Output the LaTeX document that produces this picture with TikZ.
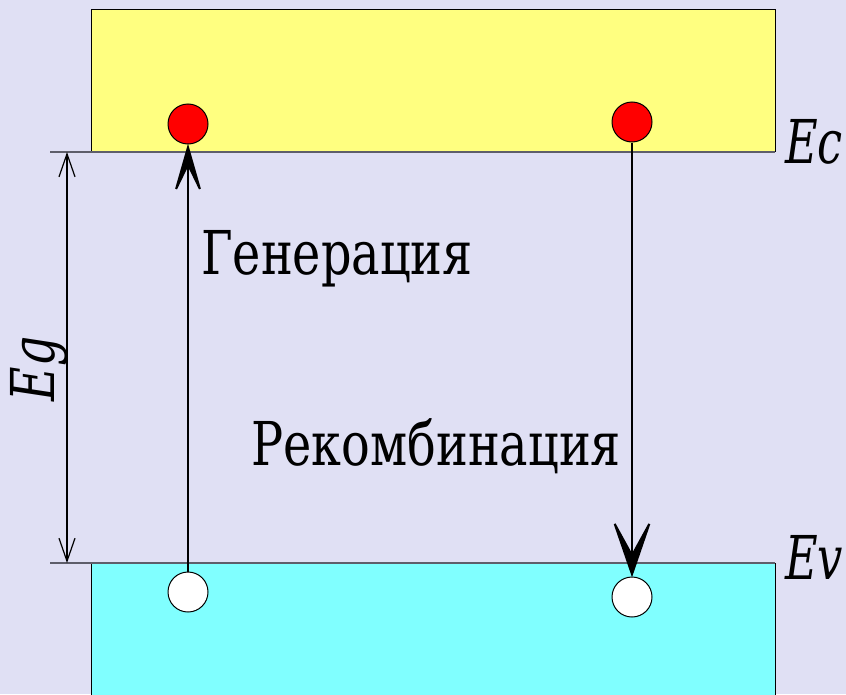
\documentclass[tikz,border=0pt]{standalone}
\usepackage{fontspec}
\setmainfont{DejaVu Serif}
\usetikzlibrary{arrows.meta}

\definecolor{bglav}{HTML}{E0E0F4}
\definecolor{condyellow}{HTML}{FFFF80}
\definecolor{valcyan}{HTML}{80FFFF}
\definecolor{levelgray}{HTML}{5E5E6A}

\begin{document}
\begin{tikzpicture}[
    x=0.25mm,
    y=-0.25mm,
    band/.style={
        draw=black,
        line width=0.25mm
    },
    level/.style={
        draw=levelgray,
        line width=0.45mm
    },
    electron/.style={
        circle,
        draw,
        line width=0.25mm,
        fill=red,
        minimum size=10mm,
        inner sep=0pt
    },
    hole/.style={
        electron,
        fill=white
    },
    transition/.style={
        line width=0.5mm,
        shorten >=-0.2mm
    },
    label/.style={
        font=\fontsize{43}{48}\selectfont,
        inner sep=0pt,
        xscale=0.79
    },
    energy/.style={
        font=\fontsize{43}{48}\selectfont\itshape,
        inner sep=0pt
    }
]

    % Background
    \fill[bglav] (0,0) rectangle (846,694);
    \useasboundingbox (0,0) rectangle (846,694);

    % Bands
    \begin{scope}
        \clip (0,0) rectangle (846,694);
        \fill[condyellow] (91,10) rectangle (775,152);
        \draw[band] (91,152) -- (91,10) -- (775,10) -- (775,152);
        \fill[valcyan] (91,563) rectangle (775,700);
        \draw[band] (91,700) -- (91,563) -- (775,563) -- (775,700);
    \end{scope}

    % Band edges
    \coordinate (ec-left) at (50,152);
    \coordinate (ec-right) at (775,152);
    \coordinate (ev-left) at (50,563);
    \coordinate (ev-right) at (775,563);
    \draw[level] (ec-left) -- (ec-right);
    \draw[level] (ev-left) -- (ev-right);

    % Carriers
    \node[electron] (e1) at (188,124) {};
    \node[electron] (e2) at (632,122) {};
    \node[hole] (h1) at (188,592) {};
    \node[hole] (h2) at (632,597) {};

    % Transitions
    \draw[transition, -{Stealth[length=14mm, width=8mm, inset=8.25mm]}] (h1) -- (e1);
    \draw[transition, -{Stealth[length=16mm, width=11mm, inset=10mm]}] (e2) -- (h2);

    % Gap
    \coordinate (eg-top) at (67,152);
    \coordinate (eg-bot) at (67,563);
    \draw[line width=0.3mm, {Straight Barb[length=5.75mm, width=4mm]}-{Straight Barb[length=5.75mm, width=4mm]}] (eg-top) -- (eg-bot);

    % Labels
    \node[label, anchor=base west] (gen) at (201,274) {Генерация};
    \node[label, anchor=base west] (rec) at (251,465) {Рекомбинация};
    \node[energy, xscale=0.74, anchor=base west] (ec) at (785,163) {Ec};
    \node[energy, xscale=0.74, anchor=base west] (ev) at (785,579) {Ev};
    \node[energy, rotate=90, xscale=0.78, anchor=base] (eg) at (54,369) {Eg};

\end{tikzpicture}
\end{document}
